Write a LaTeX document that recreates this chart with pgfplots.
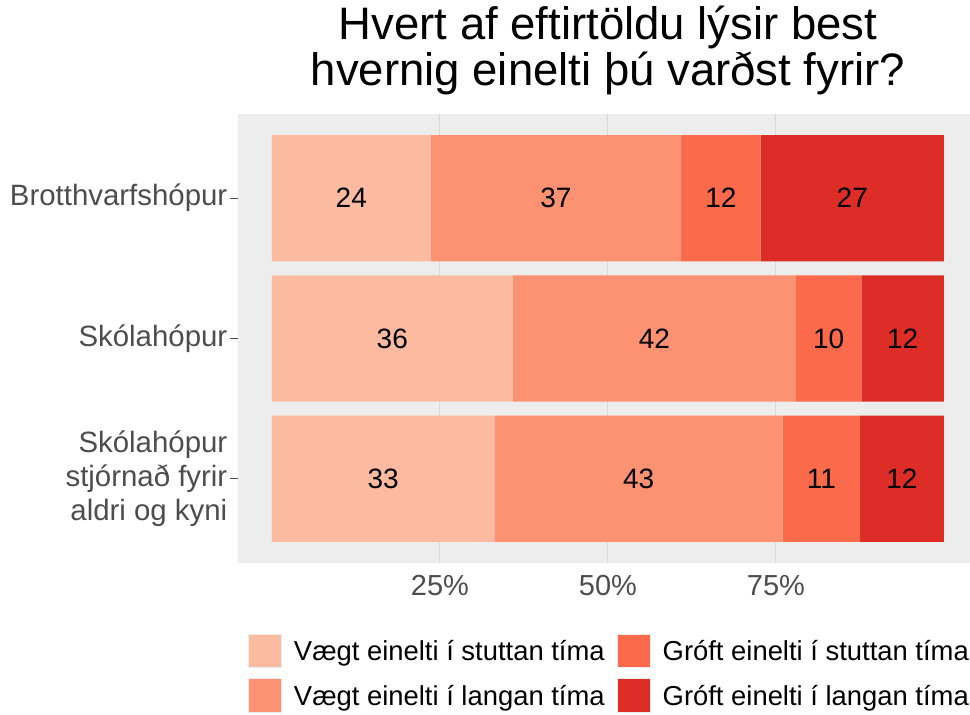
\documentclass[border=0pt]{standalone}
\usepackage{fontspec}
\setmainfont{Liberation Sans}
\usepackage{pgfplots}
\pgfplotsset{compat=1.18}
\usepackage{pgfplotstable}
\definecolor{c1}{HTML}{FCBBA1}
\definecolor{c2}{HTML}{FC9272}
\definecolor{c3}{HTML}{FB6A4A}
\definecolor{c4}{HTML}{DE2D26}
\definecolor{panel}{HTML}{EDEDED}
\definecolor{gridc}{HTML}{D9D9D9}
\definecolor{axtext}{HTML}{4D4D4D}
\definecolor{legborder}{HTML}{EDEDED}

\pgfplotstableread{
x y lab
11.8 3 24
42.25 3 37
66.8 3 12
86.35 3 27
17.9 2 36
56.9 2 42
82.85 2 10
93.85 2 12
16.55 1 33
54.55 1 43
81.75 1 11
93.75 1 12
}\labeldata

\begin{document}
\begin{tikzpicture}
\begin{axis}[name=ax, scale only axis, width=732pt, height=449pt,
  xbar stacked, bar width=0.9,
  xmin=-5.06, xmax=103.87, ymin=0.4, ymax=3.6,
  axis background/.style={fill=panel},
  axis line style={draw=none},
  xmajorgrids, grid style={draw=gridc, line width=1pt},
  xtick={25,50,75}, xticklabels={25\%,50\%,75\%},
  ytick={1,2,3},
  yticklabels={{Skólahópur\\stjórnað fyrir\\aldri og kyni},Skólahópur,Brotthvarfshópur},
  xtick style={draw=none},
  ytick style={draw=axtext, line width=1pt},
  tick align=outside, major tick length=7.5pt,
  xticklabel style={font=\fontsize{29}{32}\selectfont, text=axtext, anchor=north, inner sep=0pt, yshift=-4.5pt},
  yticklabel style={font=\fontsize{29.4}{34}\selectfont, text=axtext, anchor=east, inner sep=0pt, align=right, xshift=-3pt},
  title={Hvert af eftirtöldu lýsir best\\hvernig einelti þú varðst fyrir?},
  title style={at={(0.5055,1)}, anchor=south, yshift=12.4pt, inner sep=0pt, align=center, font=\fontsize{45.5}{46}\selectfont},
  legend image code/.code={\draw[#1, draw=legborder, line width=1pt] (0pt,-6.95pt) rectangle (33pt,26.55pt);},
  legend columns=2, transpose legend,
  legend style={at={(0.01366,-0.158)}, anchor=north west, draw=none, fill=none, inner sep=0pt, outer sep=0pt,
    /tikz/column sep=12pt, /tikz/row sep=10pt, font=\fontsize{27.4}{30}\selectfont,
    nodes={inner sep=0pt, anchor=base west}},
]
\addplot[fill=c1, draw=none] coordinates {(23.6,3) (35.8,2) (33.1,1)};
\addlegendentry{Vægt einelti í stuttan tíma}
\addplot[fill=c2, draw=none] coordinates {(37.3,3) (42.2,2) (42.9,1)};
\addlegendentry{Vægt einelti í langan tíma}
\addplot[fill=c3, draw=none] coordinates {(11.8,3) (9.7,2) (11.5,1)};
\addlegendentry{Gróft einelti í stuttan tíma}
\addplot[fill=c4, draw=none] coordinates {(27.3,3) (12.3,2) (12.5,1)};
\addlegendentry{Gróft einelti í langan tíma}
\end{axis}
\begin{axis}[at={(ax.south west)}, anchor=south west, scale only axis, width=732pt, height=449pt,
  xmin=-5.06, xmax=103.87, ymin=0.4, ymax=3.6, hide axis]
\addplot[only marks, mark=none, nodes near coords, point meta=explicit symbolic,
  nodes near coords style={anchor=center, inner sep=0pt, font=\fontsize{28}{32}\selectfont, text=black}]
  table[x=x, y=y, meta=lab]{\labeldata};
\end{axis}
\pgfresetboundingbox
\path ([xshift=-238pt,yshift=-152pt]ax.south west) rectangle ([yshift=114pt]ax.north east);
\end{tikzpicture}
\end{document}
